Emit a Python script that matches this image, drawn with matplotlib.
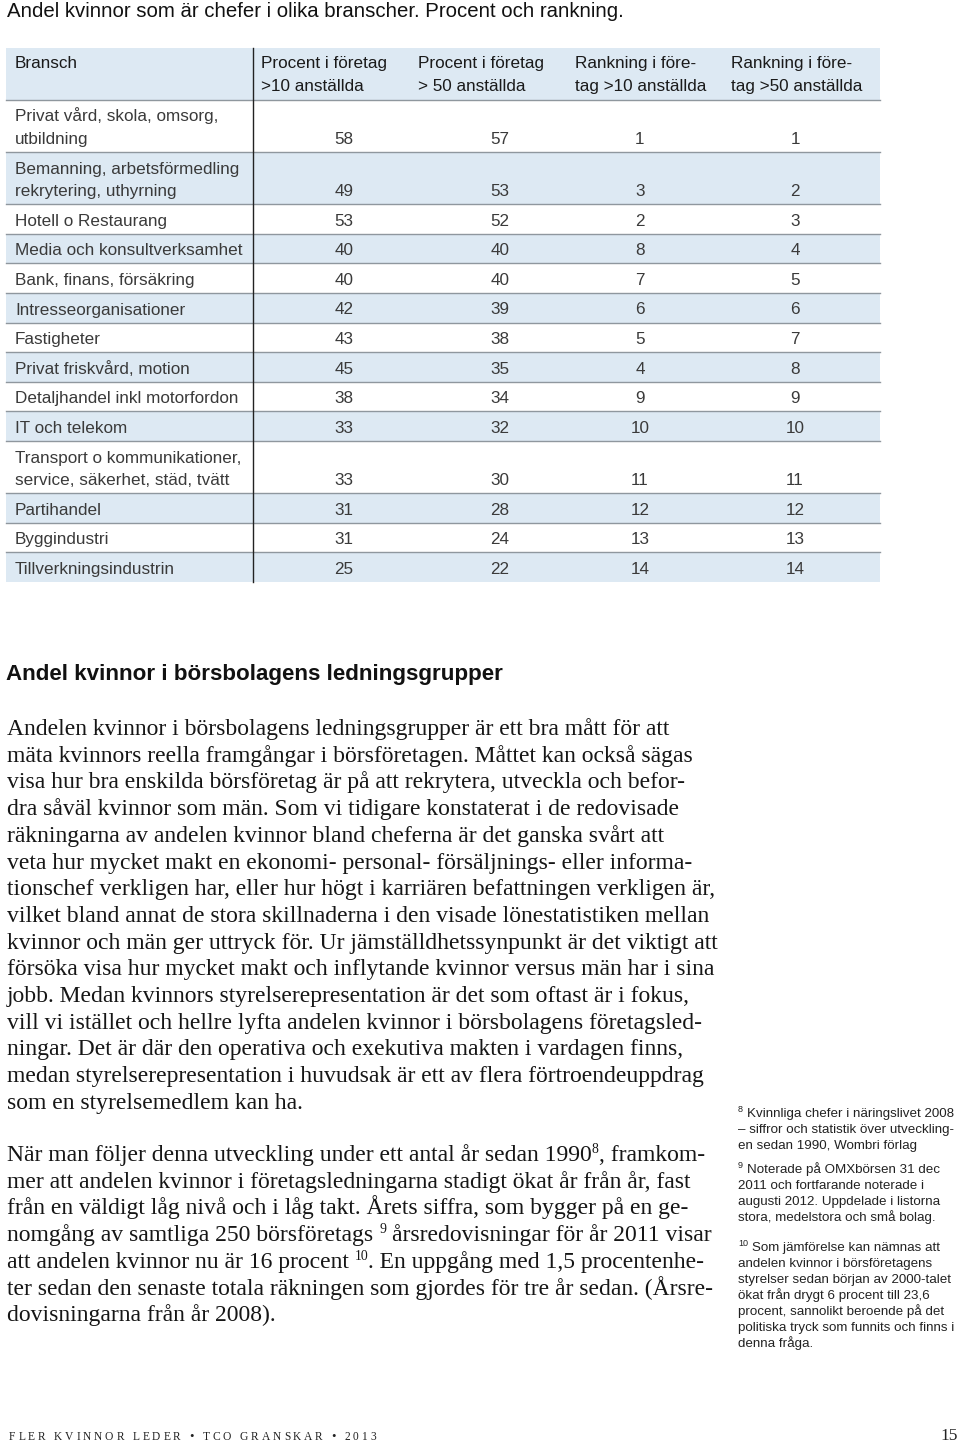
import re
import matplotlib
matplotlib.use("Agg")
import matplotlib.pyplot as plt
from matplotlib.patches import Rectangle

SANS = 'Liberation Sans'
SERIF = 'Liberation Serif'

title = "Andel kvinnor som är chefer i olika branscher. Procent och rankning."
headers = ["Bransch", "Procent i företag\n>10 anställda", "Procent i företag\n> 50 anställda",
           "Rankning i före-\ntag >10 anställda", "Rankning i före-\ntag >50 anställda"]
branscher = ["Privat vård, skola, omsorg,\nutbildning",
             "Bemanning, arbetsförmedling\nrekrytering, uthyrning",
             "Hotell o Restaurang", "Media och konsultverksamhet", "Bank, finans, försäkring",
             "Intresseorganisationer", "Fastigheter", "Privat friskvård, motion",
             "Detaljhandel inkl motorfordon", "IT och telekom",
             "Transport o kommunikationer,\nservice, säkerhet, städ, tvätt",
             "Partihandel", "Byggindustri", "Tillverkningsindustrin"]
pct10 = [58, 49, 53, 40, 40, 42, 43, 45, 38, 33, 33, 31, 31, 25]
pct50 = [57, 53, 52, 40, 40, 39, 38, 35, 34, 32, 30, 28, 24, 22]
rank10 = [1, 3, 2, 8, 7, 6, 5, 4, 9, 10, 11, 12, 13, 14]
rank50 = [1, 2, 3, 4, 5, 6, 7, 8, 9, 10, 11, 12, 13, 14]

heading = "Andel kvinnor i börsbolagens ledningsgrupper"
para1 = [
    "Andelen kvinnor i börsbolagens ledningsgrupper är ett bra mått för att",
    "mäta kvinnors reella framgångar i börsföretagen. Måttet kan också sägas",
    "visa hur bra enskilda börsföretag är på att rekrytera, utveckla och befor-",
    "dra såväl kvinnor som män. Som vi tidigare konstaterat i de redovisade",
    "räkningarna av andelen kvinnor bland cheferna är det ganska svårt att",
    "veta hur mycket makt en ekonomi- personal- försäljnings- eller informa-",
    "tionschef verkligen har, eller hur högt i karriären befattningen verkligen är,",
    "vilket bland annat de stora skillnaderna i den visade lönestatistiken mellan",
    "kvinnor och män ger uttryck för. Ur jämställdhetssynpunkt är det viktigt att",
    "försöka visa hur mycket makt och inflytande kvinnor versus män har i sina",
    "jobb. Medan kvinnors styrelserepresentation är det som oftast är i fokus,",
    "vill vi istället och hellre lyfta andelen kvinnor i börsbolagens företagsled-",
    "ningar. Det är där den operativa och exekutiva makten i vardagen finns,",
    "medan styrelserepresentation i huvudsak är ett av flera förtroendeuppdrag",
    "som en styrelsemedlem kan ha.",
]
# ^N marks a superscript footnote number
para2 = [
    "När man följer denna utveckling under ett antal år sedan 1990^8, framkom-",
    "mer att andelen kvinnor i företagsledningarna stadigt ökat år från år, fast",
    "från en väldigt låg nivå och i låg takt. Årets siffra, som bygger på en ge-",
    "nomgång av samtliga 250 börsföretags ^9 årsredovisningar för år 2011 visar",
    "att andelen kvinnor nu är 16 procent ^10. En uppgång med 1,5 procentenhe-",
    "ter sedan den senaste totala räkningen som gjordes för tre år sedan. (Årsre-",
    "dovisningarna från år 2008).",
]
fn_nums = ["8", "9", "10"]
fn_texts = [
    ["Kvinnliga chefer i näringslivet 2008", "– siffror och statistik över utveckling-",
     "en sedan 1990, Wombri förlag"],
    ["Noterade på OMXbörsen 31 dec", "2011 och fortfarande noterade i",
     "augusti 2012. Uppdelade i listorna", "stora, medelstora och små bolag."],
    ["Som jämförelse kan nämnas att", "andelen kvinnor i börsföretagens",
     "styrelser sedan början av 2000-talet", "ökat från drygt 6 procent till 23,6",
     "procent, sannolikt beroende på det", "politiska tryck som funnits och finns i",
     "denna fråga."],
]
footer = "FLER KVINNOR LEDER • TCO GRANSKAR • 2013"
page_no = "15"

W, H = 960, 1445
fig = plt.figure(figsize=(W / 100, H / 100), dpi=100)
ax = fig.add_axes([0, 0, 1, 1])
ax.set_xlim(0, W)
ax.set_ylim(H, 0)
ax.axis('off')
renderer = fig.canvas.get_renderer()

blue = '#dde9f3'
grey = '#8f979e'
body_c = '#3a3a3a'


def text_w(s, size, family):
    t = ax.text(0, 0, s, fontsize=size, family=family)
    w = t.get_window_extent(renderer).width
    t.remove()
    return w


def space_w(size, family):
    return text_w("x x", size, family) - text_w("xx", size, family)


def draw_runs(x, y, line, size, family, color):
    # draws a line, turning ^N into small raised numbers
    sp = space_w(size, family)
    for part in re.split(r'(\^\d+)', line):
        if not part:
            continue
        sup = part.startswith('^')
        s = part[1:] if sup else part
        fs = size * 0.58 if sup else size
        yy = y - size * 0.45 if sup else y
        lead = len(s) - len(s.lstrip(' '))
        trail = len(s) - len(s.rstrip(' '))
        x += lead * sp
        s = s.strip(' ')
        if s:
            t = ax.text(x, yy, s, fontsize=fs, family=family, color=color, va='baseline')
            x += t.get_window_extent(renderer).width
        x += trail * sp * (0.6 if not sup and part.endswith(' ') and False else 1.0)


# title
ax.text(7, 17, title, fontsize=14.7, family=SANS, color='#111111', va='baseline')

# table
tx0, tx1 = 6, 880
top = 48
head_b = 100
ax.add_patch(Rectangle((tx0, top), tx1 - tx0, head_b - top, color=blue, lw=0))
col_x = [15, 261, 418, 575, 731]
for x, hd in zip(col_x, headers):
    for k, ln in enumerate(hd.split("\n")):
        ax.text(x, 68 + 23 * k, ln, fontsize=12.3, family=SANS, color='#1a1a1a', va='baseline')
ax.plot([tx0, tx1], [head_b, head_b], color=grey, lw=1.0)

val_x = [344, 500, 640, 795]
y = head_b
for i, name in enumerate(branscher):
    lines = name.split("\n")
    h = 29.6 if len(lines) == 1 else 52.1
    if i % 2 == 1:
        ax.add_patch(Rectangle((tx0, y), tx1 - tx0, h, color=blue, lw=0))
    for k, ln in enumerate(lines):
        ax.text(15, y + 21.5 + 22.5 * k, ln, fontsize=12.3, family=SANS, color=body_c, va='baseline')
    vb = y + 21.5 + 22.5 * (len(lines) - 1)
    for x, v in zip(val_x, [pct10[i], pct50[i], rank10[i], rank50[i]]):
        ax.text(x, vb, str(v), fontsize=12.3, family=SANS, color=body_c, va='baseline', ha='center')
    y += h
    if i < len(branscher) - 1:
        ax.plot([tx0, tx1], [y, y], color=grey, lw=1.0)
ax.plot([253, 253], [top, y], color='#222222', lw=1.0)

# section heading and body text
ax.text(6, 680, heading, fontsize=16.1, family=SANS, weight='bold', color='#111111', va='baseline')
for k, ln in enumerate(para1):
    draw_runs(7, 735 + 26.7 * k, ln, 17, SERIF, '#161616')
for k, ln in enumerate(para2):
    draw_runs(7, 1161 + 26.7 * k, ln, 17, SERIF, '#161616')

# footnotes
fn_y = [1117, 1173, 1251]
for num, lines, y0 in zip(fn_nums, fn_texts, fn_y):
    ax.text(738, y0 - 5, num, fontsize=6.5, family=SANS, color='#222222', va='baseline')
    for k, ln in enumerate(lines):
        if k == 0:
            x = 747 if len(num) == 1 else 752
        else:
            x = 738
        ax.text(x, y0 + 16 * k, ln, fontsize=9.6, family=SANS, color='#222222', va='baseline')

# footer, letter spaced
x = 9
size = 8.3
track = 2.85
for ch in footer:
    if ch == ' ':
        x += space_w(size, SERIF) + track
        continue
    t = ax.text(x, 1440, ch, fontsize=size * 1.1 if ch == '•' else size,
                family=SERIF, color='#222222', va='baseline')
    x += t.get_window_extent(renderer).width + track
ax.text(958, 1440, page_no, fontsize=12.5, family=SERIF, color='#222222', va='baseline', ha='right')

fig.savefig("out.png", dpi=100)
